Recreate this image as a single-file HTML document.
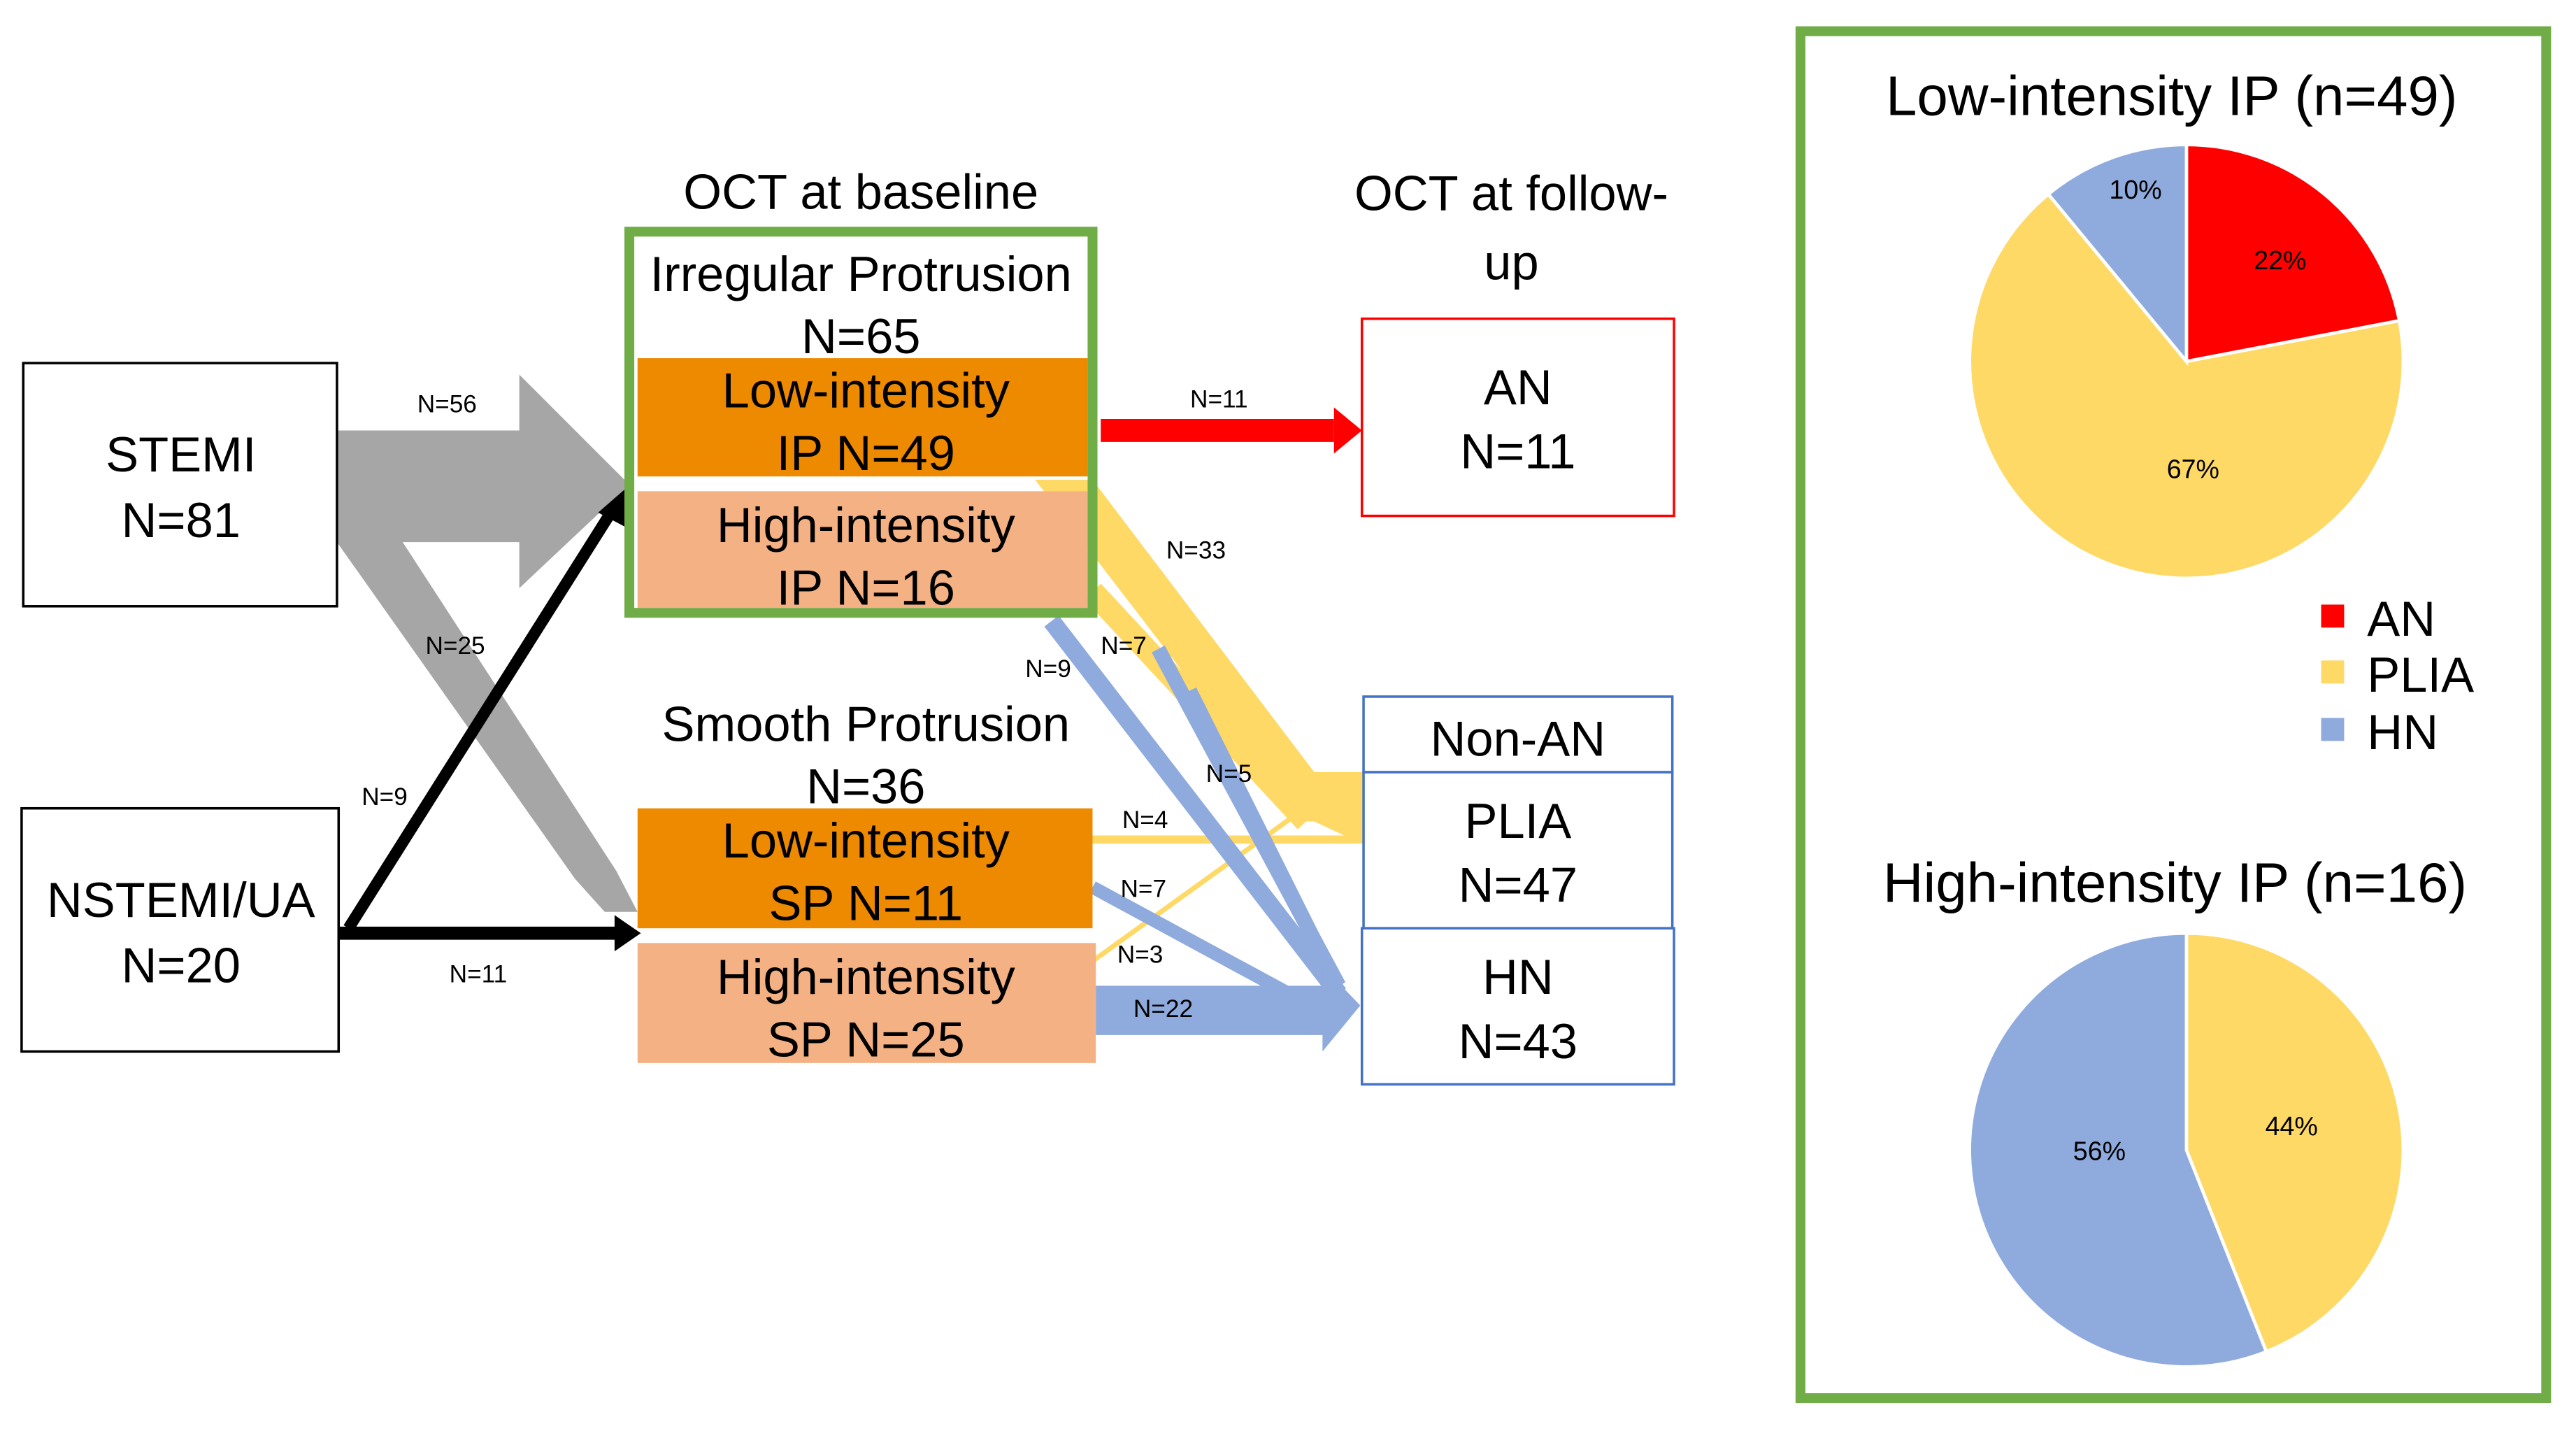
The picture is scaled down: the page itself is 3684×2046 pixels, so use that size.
<!DOCTYPE html>
<html><head><meta charset="utf-8"><style>html,body{margin:0;padding:0;background:#fff}svg{display:block}text{font-family:"Liberation Sans",sans-serif;fill:#000}</style></head>
<body>
<svg width="3684" height="2046" viewBox="0 0 1568 871" xmlns="http://www.w3.org/2000/svg">
<rect width="1568" height="871" fill="#fff"/>
<!-- flows -->
<polygon points="205,262 316,262 316,228 383,295 316,358 316,330 205,330" fill="#A6A6A6"/>
<polygon points="205,300 245,330 375,530 388,555 368,555 350,535 205,330" fill="#A6A6A6"/>
<line x1="212" y1="565" x2="373" y2="310" stroke="#000" stroke-width="7"/>
<polygon points="380,298 383,322 364,312" fill="#000"/>
<line x1="206" y1="568" x2="375" y2="568" stroke="#000" stroke-width="8"/>
<polygon points="374,557 390,568 374,579" fill="#000"/>
<line x1="670" y1="262" x2="812" y2="262" stroke="#FF0000" stroke-width="14"/>
<polygon points="812,248 829,262 812,276" fill="#FF0000"/>
<polygon points="630,292 665,292 800,470 830,470 830,514 800,500 790,500 " fill="#FFD966"/>
<line x1="665" y1="360" x2="795" y2="500" stroke="#FFD966" stroke-width="14"/>
<line x1="665" y1="511" x2="830" y2="511" stroke="#FFD966" stroke-width="5"/>
<line x1="665" y1="585" x2="790" y2="495" stroke="#FFD966" stroke-width="3"/>
<line x1="640" y1="378" x2="815" y2="605" stroke="#8FAADC" stroke-width="11"/>
<line x1="705" y1="395" x2="815" y2="600" stroke="#8FAADC" stroke-width="9"/>
<line x1="725" y1="420" x2="815" y2="600" stroke="#8FAADC" stroke-width="7"/>
<line x1="665" y1="540" x2="785" y2="605" stroke="#8FAADC" stroke-width="8"/>
<polygon points="667,600 805,600 805,588 828,612 805,640 805,630 667,630" fill="#8FAADC"/>
<!-- boxes -->
<rect x="14" y="221" width="191" height="148" fill="#fff" stroke="#000" stroke-width="1.5"/>
<rect x="13" y="492" width="193" height="148" fill="#fff" stroke="#000" stroke-width="1.5"/>
<rect x="383" y="141" width="282" height="232" fill="none" stroke="#70AD47" stroke-width="6"/>
<rect x="388" y="218" width="274" height="72" fill="#ED8A00"/>
<rect x="388" y="299" width="274" height="71" fill="#F4B183"/>
<rect x="388" y="492" width="277" height="73" fill="#ED8A00"/>
<rect x="388" y="574" width="279" height="73" fill="#F4B183"/>
<rect x="829" y="194" width="190" height="120" fill="#fff" stroke="#FF0000" stroke-width="1.5"/>
<rect x="830" y="424" width="188" height="46" fill="#fff" stroke="#4472C4" stroke-width="1.5"/>
<rect x="830" y="470" width="188" height="95" fill="#fff" stroke="#4472C4" stroke-width="1.5"/>
<rect x="829" y="565" width="190" height="95" fill="#fff" stroke="#4472C4" stroke-width="1.5"/>
<!-- text -->
<g font-size="30" text-anchor="middle">
<text x="110" y="287">STEMI</text><text x="110" y="327">N=81</text>
<text x="110" y="558">NSTEMI/UA</text><text x="110" y="598">N=20</text>
<text x="524" y="127">OCT at baseline</text>
<text x="920" y="128">OCT at follow-</text><text x="920" y="170">up</text>
<text x="524" y="177">Irregular Protrusion</text><text x="524" y="215">N=65</text>
<text x="527" y="248">Low-intensity</text><text x="527" y="286">IP N=49</text>
<text x="527" y="330">High-intensity</text><text x="527" y="368">IP N=16</text>
<text x="527" y="451">Smooth Protrusion</text><text x="527" y="489">N=36</text>
<text x="527" y="522">Low-intensity</text><text x="527" y="560">SP N=11</text>
<text x="527" y="605">High-intensity</text><text x="527" y="643">SP N=25</text>
<text x="924" y="246">AN</text><text x="924" y="285">N=11</text>
<text x="924" y="460">Non-AN</text>
<text x="924" y="510">PLIA</text><text x="924" y="549">N=47</text>
<text x="924" y="605">HN</text><text x="924" y="644">N=43</text>
</g>
<g font-size="15" text-anchor="middle">
<text x="272" y="251">N=56</text><text x="277" y="398">N=25</text><text x="234" y="490">N=9</text>
<text x="291" y="598">N=11</text><text x="742" y="248">N=11</text><text x="728" y="340">N=33</text>
<text x="684" y="398">N=7</text><text x="638" y="412">N=9</text><text x="748" y="476">N=5</text>
<text x="697" y="504">N=4</text><text x="696" y="546">N=7</text><text x="694" y="586">N=3</text>
<text x="708" y="619">N=22</text>
</g>
<!-- right panel -->
<rect x="1096" y="19" width="454" height="832" fill="none" stroke="#70AD47" stroke-width="6"/>
<text x="1322" y="70" font-size="34" text-anchor="middle">Low-intensity IP (n=49)</text>
<path d="M1331,220 L1331,88 A132,132 0 0,1 1460.6,195.2 Z" fill="#FF0000" stroke="#fff" stroke-width="2"/>
<path d="M1331,220 L1460.6,195.2 A132,132 0 1,1 1246.9,118.2 Z" fill="#FFD966" stroke="#fff" stroke-width="2"/>
<path d="M1331,220 L1246.9,118.2 A132,132 0 0,1 1331,88 Z" fill="#8FAADC" stroke="#fff" stroke-width="2"/>
<path d="M1331,700 L1331,568 A132,132 0 0,1 1379.6,822.7 Z" fill="#FFD966" stroke="#fff" stroke-width="2"/>
<path d="M1331,700 L1379.6,822.7 A132,132 0 1,1 1331,568 Z" fill="#8FAADC" stroke="#fff" stroke-width="2"/>
<g font-size="16" text-anchor="middle"><text x="1300" y="121">10%</text><text x="1388" y="164">22%</text><text x="1335" y="291">67%</text>
<text x="1395" y="691">44%</text><text x="1278" y="706">56%</text></g>
<rect x="1413" y="368" width="14" height="14" fill="#FF0000"/>
<rect x="1413" y="402" width="14" height="14" fill="#FFD966"/>
<rect x="1413" y="437" width="14" height="14" fill="#8FAADC"/>
<g font-size="30"><text x="1441" y="387">AN</text><text x="1441" y="421">PLIA</text><text x="1441" y="456">HN</text></g>
<text x="1324" y="549" font-size="34" text-anchor="middle">High-intensity IP (n=16)</text>
</svg>
</body></html>
